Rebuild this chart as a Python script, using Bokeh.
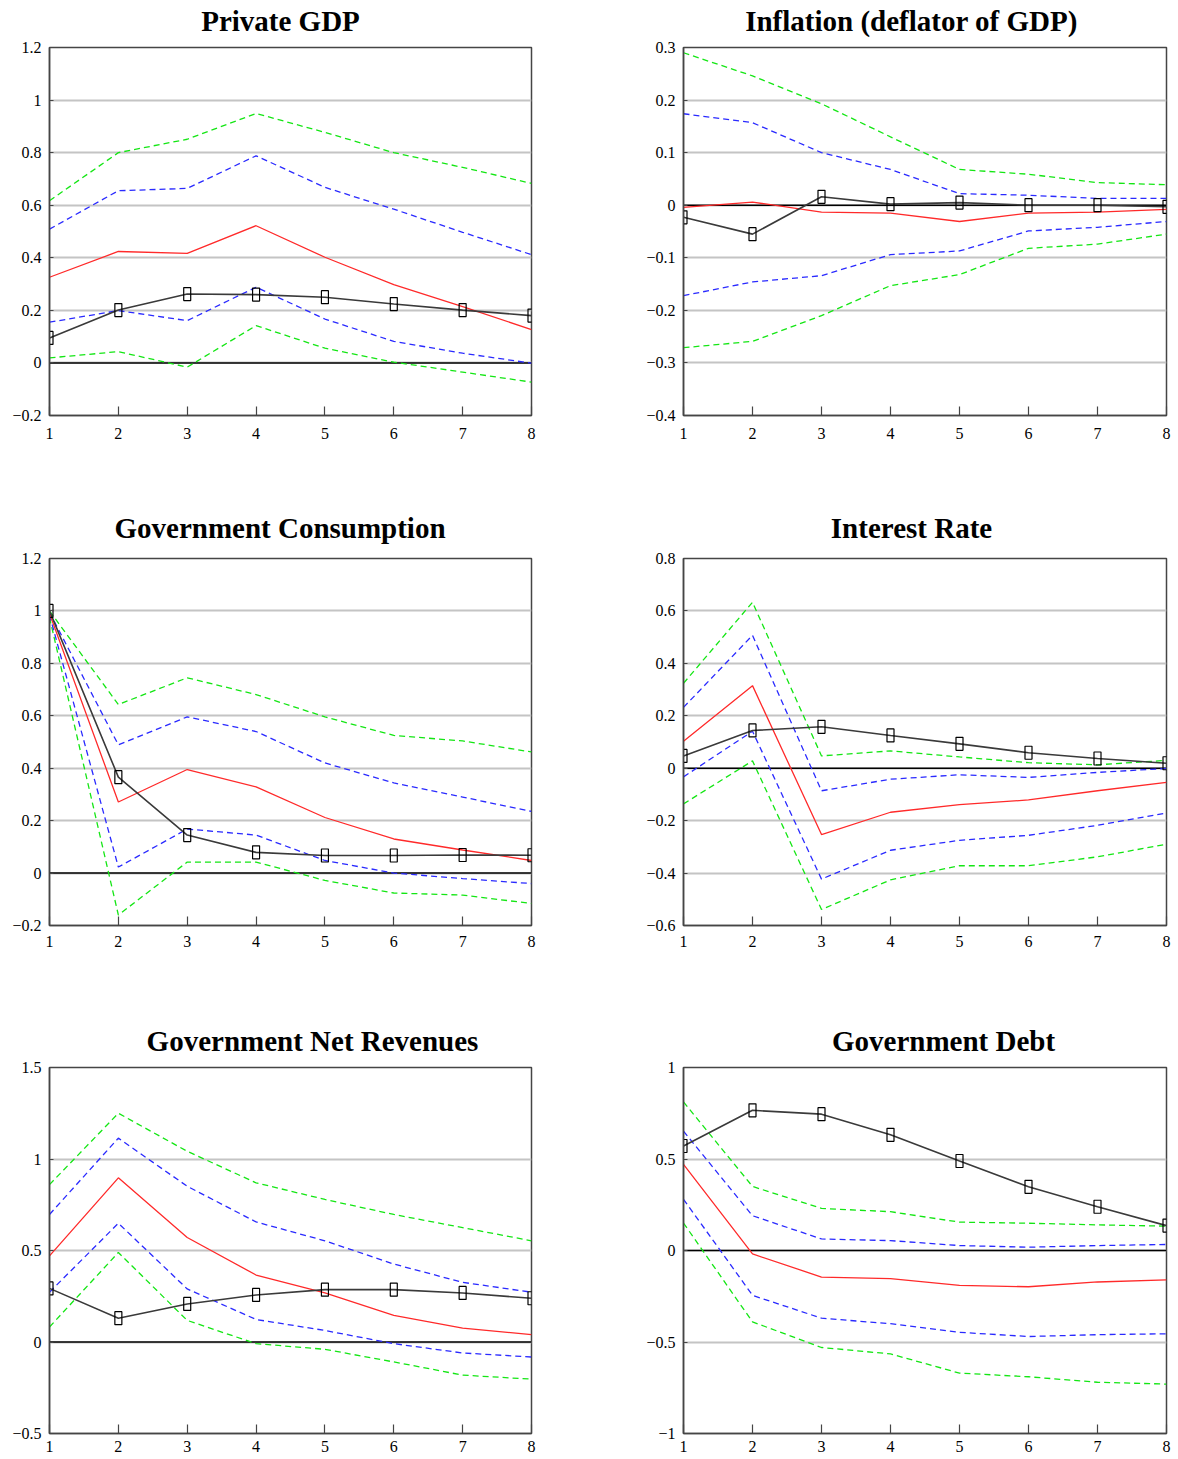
from bokeh.plotting import figure
from bokeh.layouts import column, row
from bokeh.models import FixedTicker, CustomJSTickFormatter, Span, Range1d
from bokeh.core.properties import value
from bokeh.embed import file_html
from bokeh.resources import INLINE

periods = [1, 2, 3, 4, 5, 6, 7, 8]

# Private GDP
gdp_outer_hi = [0.617, 0.800, 0.851, 0.949, 0.877, 0.800, 0.744, 0.683]
gdp_inner_hi = [0.509, 0.655, 0.664, 0.788, 0.668, 0.585, 0.497, 0.412]
gdp_median = [0.326, 0.424, 0.417, 0.522, 0.402, 0.298, 0.214, 0.127]
gdp_point = [0.095, 0.201, 0.262, 0.260, 0.250, 0.224, 0.201, 0.180]
gdp_inner_lo = [0.155, 0.199, 0.161, 0.288, 0.167, 0.082, 0.037, -0.001]
gdp_outer_lo = [0.019, 0.043, -0.016, 0.142, 0.056, 0.003, -0.035, -0.073]
gdp_ticks = [-0.2, 0.0, 0.2, 0.4, 0.6, 0.8, 1.0, 1.2]

# Inflation (deflator of GDP)
infl_outer_hi = [0.290, 0.246, 0.193, 0.130, 0.068, 0.059, 0.043, 0.039]
infl_inner_hi = [0.174, 0.157, 0.100, 0.068, 0.022, 0.019, 0.013, 0.013]
infl_median = [-0.004, 0.006, -0.013, -0.015, -0.031, -0.015, -0.013, -0.008]
infl_point = [-0.023, -0.055, 0.016, 0.002, 0.005, 0.000, 0.000, -0.003]
infl_inner_lo = [-0.172, -0.146, -0.134, -0.094, -0.087, -0.049, -0.042, -0.031]
infl_outer_lo = [-0.271, -0.259, -0.210, -0.153, -0.132, -0.082, -0.074, -0.055]
infl_ticks = [-0.4, -0.3, -0.2, -0.1, 0.0, 0.1, 0.2, 0.3]

# Government Consumption
gc_outer_hi = [1.000, 0.643, 0.745, 0.681, 0.596, 0.525, 0.504, 0.462]
gc_inner_hi = [0.995, 0.489, 0.596, 0.540, 0.420, 0.344, 0.290, 0.235]
gc_median = [0.990, 0.271, 0.395, 0.329, 0.212, 0.130, 0.088, 0.048]
gc_point = [1.000, 0.366, 0.145, 0.079, 0.067, 0.067, 0.069, 0.068]
gc_inner_lo = [0.985, 0.023, 0.168, 0.145, 0.048, 0.000, -0.021, -0.040]
gc_outer_lo = [0.975, -0.160, 0.042, 0.042, -0.028, -0.076, -0.084, -0.116]
gc_ticks = [-0.2, 0.0, 0.2, 0.4, 0.6, 0.8, 1.0, 1.2]

# Interest Rate
ir_outer_hi = [0.324, 0.633, 0.047, 0.066, 0.043, 0.021, 0.013, 0.030]
ir_inner_hi = [0.232, 0.507, -0.086, -0.042, -0.025, -0.035, -0.016, -0.001]
ir_median = [0.103, 0.315, -0.253, -0.168, -0.139, -0.121, -0.086, -0.054]
ir_point = [0.047, 0.144, 0.158, 0.125, 0.093, 0.059, 0.037, 0.019]
ir_inner_lo = [-0.033, 0.141, -0.423, -0.313, -0.275, -0.256, -0.218, -0.171]
ir_outer_lo = [-0.136, 0.028, -0.539, -0.426, -0.372, -0.372, -0.338, -0.290]
ir_ticks = [-0.6, -0.4, -0.2, 0.0, 0.2, 0.4, 0.6, 0.8]

# Government Net Revenues
rev_outer_hi = [0.860, 1.250, 1.042, 0.870, 0.779, 0.697, 0.625, 0.553]
rev_inner_hi = [0.697, 1.114, 0.851, 0.656, 0.553, 0.426, 0.326, 0.272]
rev_median = [0.471, 0.897, 0.571, 0.366, 0.268, 0.145, 0.076, 0.040]
rev_point = [0.293, 0.130, 0.208, 0.257, 0.286, 0.286, 0.268, 0.239]
rev_inner_lo = [0.272, 0.649, 0.290, 0.123, 0.063, -0.009, -0.060, -0.082]
rev_outer_lo = [0.082, 0.489, 0.118, -0.009, -0.040, -0.109, -0.181, -0.203]
rev_ticks = [-0.5, 0.0, 0.5, 1.0, 1.5]

# Government Debt
debt_outer_hi = [0.812, 0.350, 0.230, 0.212, 0.155, 0.149, 0.140, 0.133]
debt_inner_hi = [0.652, 0.190, 0.063, 0.054, 0.027, 0.018, 0.027, 0.033]
debt_median = [0.471, -0.019, -0.145, -0.154, -0.191, -0.198, -0.172, -0.161]
debt_point = [0.571, 0.766, 0.745, 0.632, 0.489, 0.348, 0.239, 0.136]
debt_inner_lo = [0.280, -0.245, -0.370, -0.400, -0.447, -0.470, -0.460, -0.455]
debt_outer_lo = [0.150, -0.390, -0.530, -0.565, -0.670, -0.690, -0.720, -0.730]
debt_ticks = [-1.0, -0.5, 0.0, 0.5, 1.0]

# panel headings, one pair per row
row1_titles = ["Private GDP", "Inflation (deflator of GDP)"]
row2_titles = ["Government Consumption", "Interest Rate"]
row3_titles = ["Government Net Revenues", "Government Debt"]

FRAME = "#454545"
SERIF = "Liberation Serif"
PAGE_W = 1178
FIG_W = 589
STRIP_H = 39

tick_fmt = """
const v = Math.round(tick * 1e6) / 1e6;
return (v < 0 ? "\u2212" : "") + String(Math.abs(v));
"""


def heading_strip(titles, centers, text_y):
    # a bare pixel-scaled canvas that only carries the two headings of a row
    s = figure(width=PAGE_W, height=STRIP_H,
               x_range=Range1d(0, PAGE_W), y_range=Range1d(STRIP_H, 0),
               x_axis_type=None, y_axis_type=None,
               output_backend="svg", toolbar_location=None, tools="",
               min_border=0)
    s.outline_line_color = None
    s.grid.grid_line_color = None
    s.background_fill_color = "white"
    s.border_fill_color = "white"
    s.text(x=centers, y=[text_y] * len(titles), text=titles,
           text_font=value(SERIF), text_font_style="bold", text_font_size="29px",
           text_color="black", text_align="center", text_baseline="middle")
    return s


def make_panel(ticks, series, height, borders, xlabel_standoff):
    left, right, top, bottom = borders
    ylo, yhi = ticks[0], ticks[-1]
    p = figure(width=FIG_W, height=height,
               x_range=Range1d(1, 8), y_range=Range1d(ylo, yhi),
               output_backend="svg", toolbar_location=None, tools="",
               min_border_left=left, min_border_right=right,
               min_border_top=top, min_border_bottom=bottom)
    p.background_fill_color = "white"
    p.border_fill_color = "white"
    p.outline_line_color = FRAME
    p.outline_line_width = 1.5

    for axes in (p.xaxis, p.yaxis):
        axes.axis_line_color = FRAME
        axes.axis_line_width = 1.5
        axes.major_tick_line_color = FRAME
        axes.major_tick_line_width = 1.2
        axes.major_tick_out = 0
        axes.minor_tick_line_color = None
        axes.major_label_text_font = SERIF
        axes.major_label_text_font_size = "16px"
        axes.major_label_text_color = "black"

    p.xaxis.ticker = FixedTicker(ticks=periods)
    p.xaxis.major_tick_in = 9
    p.xaxis.major_label_standoff = xlabel_standoff
    p.yaxis.ticker = FixedTicker(ticks=ticks)
    p.yaxis.formatter = CustomJSTickFormatter(code=tick_fmt)
    p.yaxis.major_tick_in = 4
    p.yaxis.major_label_standoff = 8

    p.xgrid.grid_line_color = None
    p.ygrid.ticker = FixedTicker(ticks=ticks)
    p.ygrid.grid_line_color = "#c4c4c4"
    p.ygrid.grid_line_width = 2

    zero = Span(location=0, dimension="width", line_color="black", line_width=1.5)
    zero.level = "underlay"
    p.add_layout(zero)

    outer_hi, inner_hi, median, point, inner_lo, outer_lo = series
    for ys in (outer_hi, outer_lo):
        p.line(periods, ys, line_color="#14e614", line_width=1.3, line_dash="6 4")
    for ys in (inner_hi, inner_lo):
        p.line(periods, ys, line_color="#2a2aff", line_width=1.3, line_dash="6 4")
    p.line(periods, median, line_color="#ff2a2a", line_width=1.3)
    p.line(periods, point, line_color="#3a3a3a", line_width=1.6)
    p.rect(periods, point, width=7, height=13, width_units="screen", height_units="screen",
           fill_color=None, line_color="black", line_width=1.2)
    return p


L = (49, 58)
R = (94, 12)

h1 = heading_strip(row1_titles, [280, 911], 20)
p1 = make_panel(gdp_ticks,
                (gdp_outer_hi, gdp_inner_hi, gdp_median, gdp_point, gdp_inner_lo, gdp_outer_lo),
                472, L + (8, 96), 12)
p2 = make_panel(infl_ticks,
                (infl_outer_hi, infl_inner_hi, infl_median, infl_point, infl_inner_lo, infl_outer_lo),
                472, R + (8, 96), 12)

h2 = heading_strip(row2_titles, [279.5, 911], 16)
p3 = make_panel(gc_ticks,
                (gc_outer_hi, gc_inner_hi, gc_median, gc_point, gc_inner_lo, gc_outer_lo),
                470, L + (8, 95), 10)
p4 = make_panel(ir_ticks,
                (ir_outer_hi, ir_inner_hi, ir_median, ir_point, ir_inner_lo, ir_outer_lo),
                470, R + (8, 95), 10)

h3 = heading_strip(row3_titles, [312, 943], 20)
p5 = make_panel(rev_ticks,
                (rev_outer_hi, rev_inner_hi, rev_median, rev_point, rev_inner_lo, rev_outer_lo),
                400, L + (8, 26), 7)
p6 = make_panel(debt_ticks,
                (debt_outer_hi, debt_inner_hi, debt_median, debt_point, debt_inner_lo, debt_outer_lo),
                400, R + (8, 26), 7)

layout = column(h1, row(p1, p2, spacing=0),
                h2, row(p3, p4, spacing=0),
                h3, row(p5, p6, spacing=0), spacing=0)

open("out.html", "w").write(file_html(layout, INLINE))
